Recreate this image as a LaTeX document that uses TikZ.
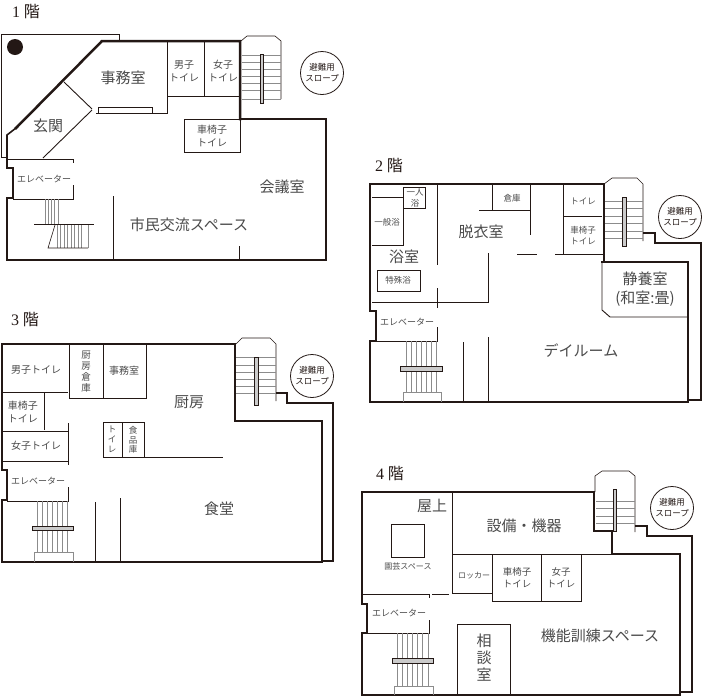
\documentclass[tikz,border=0pt]{standalone}
\usepackage{fontspec}
\setmainfont{Noto Sans CJK JP}
\newfontfamily\titledigit{Liberation Serif}
\definecolor{wallColor}{HTML}{231815}
\definecolor{roomColor}{HTML}{4A4A4A}
\definecolor{treadColor}{HTML}{8C8C8C}
\tikzset{
  wall/.style={draw=wallColor,line width=2.5pt,line cap=rect,line join=miter},
  sidewall/.style={draw=wallColor,line width=1.6pt,line join=miter},
  inner/.style={draw=wallColor,line width=0.9pt},
  thinline/.style={draw=wallColor,line width=0.6pt},
  tread/.style={draw=treadColor,line width=0.7pt},
  stairbar/.style={draw=wallColor,line width=0.6pt,fill=treadColor!45},
  floortitle/.style={text=wallColor,font=\fontsize{16}{18}\selectfont},
  bigroom/.style={text=roomColor,align=center,inner sep=0pt,font=\fontsize{15}{19}\selectfont},
  midroom/.style={text=roomColor,align=center,inner sep=0pt,font=\fontsize{10}{13}\selectfont},
  smallroom/.style={text=roomColor,align=center,inner sep=0pt,font=\fontsize{8.5}{11}\selectfont},
  rampsign/.style={circle,draw=wallColor,line width=0.8pt,minimum size=43pt,inner sep=0pt,align=center,
    text=wallColor,font=\fontsize{8.5}{11}\selectfont},
}
\begin{document}
\begin{tikzpicture}[x=1pt,y=-1pt]
  \useasboundingbox (0,0) rectangle (703,697);

  % 1F
  \node[floortitle] (title1) at (26,12) {{\titledigit 1} 階};
  \draw[thinline] (7,157) -- (1,157) -- (1,34) -- (119,34) -- (119,41);
  \fill[wallColor] (15,47) circle (8);
  \draw[wall] (240,119) -- (240,41) -- (102,41) -- (16,128);
  \draw[sidewall] (16,128) -- (7,135) -- (7,168) -- (13,168) -- (13,198) -- (7,198);
  \draw[wall] (7,198) -- (7,260) -- (326,260) -- (326,119) -- (240,119);
  \draw[inner] (167,41) -- (167,113) -- (96,113);
  \draw[inner] (64,82) -- (92,109);
  \draw[inner] (92,110) -- (43,158);
  \draw[inner] (98,107) rectangle (152,113);
  \draw[inner] (167,96) -- (240,96);
  \draw[inner] (204,41) -- (204,96);
  \draw[inner] (184,119) rectangle (240,152);
  \draw[inner] (8,159) -- (73,159) -- (73,163);
  \draw[inner] (13,199) -- (73,199) -- (73,185);
  \draw[inner] (113,196) -- (113,260);
  \draw[inner] (239,246) -- (239,260);
  \foreach \x in {45,48,51,54,58} \draw[tread] (\x,199) -- (\x,224);
  \foreach \x in {57,60.5,64,67.5,71,74.5,78,81.5,88} \draw[tread] (\x,224) -- (\x,248);
  \draw[inner] (34,224) -- (94,224);
  \draw[thinline] (55,225) -- (48,248) -- (88,248);
  \draw[thinline] (241,41) -- (247,36) -- (275,36) -- (281,41) -- (281,99);
  \foreach \y in {55,62,69,76,83,90,99} \draw[tread] (242,\y) -- (281,\y);
  \draw[stairbar] (260,54) rectangle (263,103);
  \node[bigroom] (office1) at (123,78) {事務室};
  \node[midroom] (men1) at (184,71) {男子\\トイレ};
  \node[midroom] (women1) at (223,71) {女子\\トイレ};
  \node[bigroom] (entrance1) at (48,126) {玄関};
  \node[midroom] (wheel1) at (212,136) {車椅子\\トイレ};
  \node[smallroom,font=\fontsize{9}{11}\selectfont] (lift1) at (44,179) {エレベーター};
  \node[bigroom] (plaza1) at (189,225) {市民交流スペース};
  \node[bigroom] (meeting1) at (282,187) {会議室};
  \node[rampsign] (ramp1) at (322,73) {避難用\\スロープ};

  % 2F
  \node[floortitle] (title2) at (389,166) {{\titledigit 2} 階};
  \draw[wall] (604,262) -- (604,184) -- (370,184) -- (370,311);
  \draw[sidewall] (370,311) -- (376,311) -- (376,341) -- (370,341);
  \draw[wall] (370,341) -- (370,402) -- (688,402) -- (688,262) -- (602,262);
  \draw[thinline] (604,184) -- (612,178) -- (637,178) -- (643,184) -- (643,241);
  \draw[sidewall] (643,233) -- (655,233) -- (655,243) -- (701,243) -- (701,400) -- (689,400);
  \foreach \y in {201,208,216,223,231,238} \draw[tread] (605,\y) -- (643,\y);
  \draw[stairbar] (622,197) rectangle (626,246);
  \draw[inner] (372,197) -- (403,197);
  \draw[inner] (403,187) -- (403,245) -- (372,245);
  \draw[inner] (403,187) -- (425,187) -- (425,208) -- (403,208);
  \draw[inner] (437,184) -- (437,265);
  \draw[inner] (437,288) -- (437,308);
  \draw[inner] (377,270) rectangle (420,291);
  \draw[inner] (492,184) -- (492,210);
  \draw[inner] (479,210) -- (530,210);
  \draw[inner] (530,184) -- (530,235);
  \draw[inner] (563,184) -- (563,254);
  \draw[inner] (563,216) -- (602,216);
  \draw[inner] (555,254) -- (604,254);
  \draw[inner] (517,254) -- (537,254);
  \draw[inner] (488,253) -- (488,302) -- (372,302);
  \draw[inner] (377,341) -- (437,341) -- (437,327);
  \draw[inner] (463,342) -- (463,402);
  \draw[inner] (488,337) -- (488,402);
  \draw[inner] (602,262) -- (602,310) -- (610,317) -- (688,317);
  \foreach \x in {406,411,416,421,426,431,436} \draw[tread] (\x,341) -- (\x,392);
  \draw[stairbar] (400,366) rectangle (442,371);
  \draw[tread] (403,402) -- (403,392) -- (441,392) -- (441,402);
  \node[smallroom] (single2) at (415,198) {一人\\浴};
  \node[smallroom] (common2) at (387,222) {一般浴};
  \node[smallroom] (store2) at (512,198) {倉庫};
  \node[smallroom] (toilet2) at (583,201) {トイレ};
  \node[smallroom] (wheel2) at (583,236) {車椅子\\トイレ};
  \node[bigroom] (changing2) at (481,232) {脱衣室};
  \node[bigroom] (bath2) at (404,257) {浴室};
  \node[smallroom] (special2) at (398,280) {特殊浴};
  \node[smallroom,font=\fontsize{9}{11}\selectfont] (lift2) at (407,322) {エレベーター};
  \node[bigroom] (rest2) at (645,289) {静養室\\(和室:畳)};
  \node[bigroom] (dayroom2) at (581,351) {デイルーム};
  \node[rampsign] (ramp2) at (680,217) {避難用\\スロープ};

  % 3F
  \node[floortitle] (title3) at (25,320) {{\titledigit 3} 階};
  \draw[wall] (235,421) -- (235,344) -- (2,344) -- (2,470);
  \draw[sidewall] (2,470) -- (7,470) -- (7,500) -- (2,500);
  \draw[wall] (2,500) -- (2,562) -- (322,562) -- (322,421) -- (235,421);
  \draw[thinline] (236,344) -- (242,338) -- (270,338) -- (276,344) -- (276,401);
  \draw[sidewall] (276,393) -- (287,393) -- (287,403) -- (333,403) -- (333,561) -- (322,561);
  \foreach \y in {357,365,372,379,386,393} \draw[tread] (236,\y) -- (276,\y);
  \draw[stairbar] (254,357) rectangle (258,405);
  \draw[inner] (3,392) -- (68,392);
  \draw[inner] (69,344) -- (69,398) -- (146,398) -- (146,344);
  \draw[inner] (103,344) -- (103,398);
  \draw[inner] (44,393) -- (44,430);
  \draw[inner] (3,431) -- (68,431);
  \draw[inner] (3,461) -- (68,461);
  \draw[inner] (68,423) -- (68,465);
  \draw[inner] (7,501) -- (68,501) -- (68,487);
  \draw[inner] (103,422) -- (145,422);
  \draw[inner] (103,422) -- (103,457) -- (223,457);
  \draw[inner] (122,422) -- (122,457);
  \draw[inner] (144,422) -- (144,457);
  \draw[inner] (95,502) -- (95,562);
  \draw[inner] (120,498) -- (120,562);
  \foreach \x in {37,42,47,52,57,62,67} \draw[tread] (\x,501) -- (\x,552);
  \draw[stairbar] (32,526) rectangle (73,530);
  \draw[tread] (34,562) -- (34,552) -- (73,552) -- (73,562);
  \node[midroom] (men3) at (36,370) {男子トイレ};
  \node[midroom,font=\fontsize{9.5}{11}\selectfont] (kitchenstore3) at (86,372) {厨\\房\\倉\\庫};
  \node[midroom] (office3) at (124,371) {事務室};
  \node[bigroom] (kitchen3) at (189,402) {厨房};
  \node[midroom] (wheel3) at (23,412) {車椅子\\トイレ};
  \node[midroom] (women3) at (36,446) {女子トイレ};
  \node[smallroom,font=\fontsize{9}{11}\selectfont] (lift3) at (38,481) {エレベーター};
  \node[smallroom,font=\fontsize{8.5}{10}\selectfont] (toilet3) at (112,439) {ト\\イ\\レ};
  \node[smallroom,font=\fontsize{8.5}{9.5}\selectfont] (food3) at (133,440) {食\\品\\庫};
  \node[bigroom] (dining3) at (219,509) {食堂};
  \node[rampsign] (ramp3) at (312,376) {避難用\\スロープ};

  % 4F
  \node[floortitle] (title4) at (390,474) {{\titledigit 4} 階};
  \draw[wall] (612,554) -- (612,531) -- (594,531) -- (594,492) -- (362,492) -- (362,604);
  \draw[sidewall] (362,604) -- (367,604) -- (367,633) -- (362,633);
  \draw[wall] (362,633) -- (362,695) -- (680,695) -- (680,554) -- (612,554);
  \draw[thinline] (595,492) -- (595,476) -- (602,471) -- (629,471) -- (635,476) -- (635,532);
  \draw[sidewall] (635,526) -- (647,526) -- (647,536) -- (692,536) -- (692,692) -- (680,692);
  \foreach \y in {501,508,516,523} \draw[tread] (596,\y) -- (635,\y);
  \draw[stairbar] (613,489) rectangle (616,531);
  \draw[inner] (452,492) -- (452,593);
  \draw[inner] (452,554) -- (680,554);
  \draw[inner] (452,593) -- (492,593);
  \draw[inner] (492,554) -- (492,601) -- (581,601) -- (581,554);
  \draw[inner] (541,554) -- (541,601);
  \draw[inner] (362,594) -- (429,594) -- (429,598);
  \draw[inner] (432,594) -- (449,594);
  \draw[inner] (367,633) -- (429,633) -- (429,620);
  \draw[inner] (391,524) rectangle (424,557);
  \draw[inner] (457,695) -- (457,624) -- (510,624) -- (510,695);
  \foreach \x in {397,402,407,412,417,422,428} \draw[tread] (\x,633) -- (\x,686);
  \draw[stairbar] (392,658) rectangle (433,663);
  \draw[tread] (394,695) -- (394,686) -- (433,686) -- (433,695);
  \node[bigroom] (roof4) at (432,506) {屋上};
  \node[bigroom] (equip4) at (524,526) {設備・機器};
  \node[smallroom,font=\fontsize{8}{10}\selectfont] (garden4) at (408,566) {園芸スペース};
  \node[smallroom,font=\fontsize{8}{10}\selectfont] (locker4) at (474,576) {ロッカー};
  \node[smallroom,font=\fontsize{9.5}{12}\selectfont] (wheel4) at (517,578) {車椅子\\トイレ};
  \node[smallroom,font=\fontsize{9.5}{12}\selectfont] (women4) at (561,578) {女子\\トイレ};
  \node[smallroom,font=\fontsize{9}{11}\selectfont] (lift4) at (399,613) {エレベーター};
  \node[bigroom] (training4) at (600,636) {機能訓練スペース};
  \node[bigroom,font=\fontsize{15}{17}\selectfont] (consult4) at (484,658) {相\\談\\室};
  \node[rampsign] (ramp4) at (672,508) {避難用\\スロープ};
\end{tikzpicture}
\end{document}
